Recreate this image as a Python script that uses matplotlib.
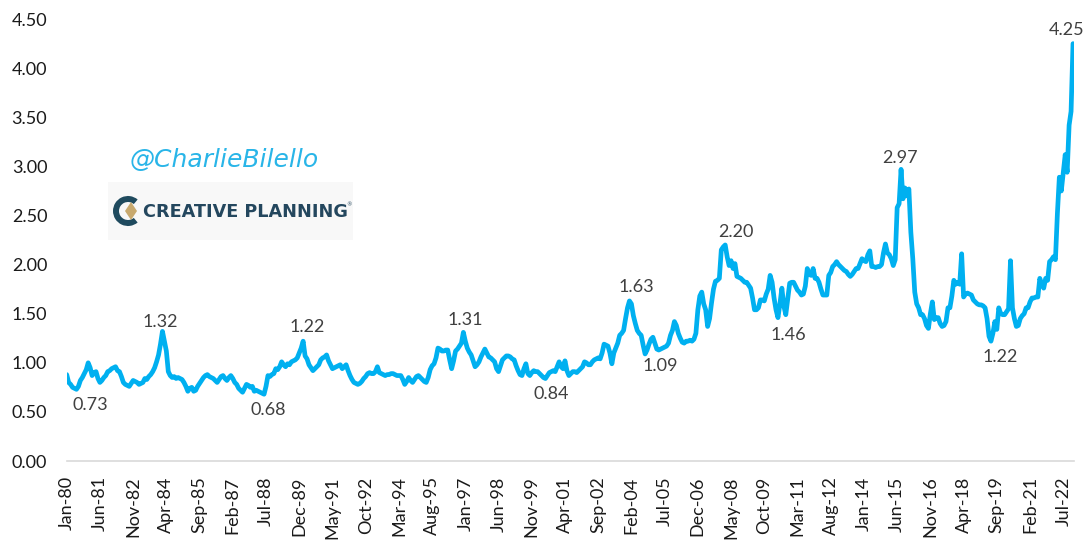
import matplotlib
matplotlib.use("Agg")
import matplotlib.pyplot as plt
from matplotlib.patches import Rectangle, Wedge, Polygon
import numpy as np

# Average price of a dozen Grade A large eggs (USD), monthly Jan-1980 .. Dec-2022
egg_price = [
    0.88, 0.80, 0.78, 0.75, 0.74, 0.73, 0.76, 0.82, 0.85, 0.89, 0.93, 1.00,  # 1980
    0.95, 0.87, 0.90, 0.91, 0.84, 0.80, 0.82, 0.85, 0.87, 0.91, 0.92, 0.94,  # 1981
    0.95, 0.96, 0.92, 0.91, 0.86, 0.80, 0.78, 0.77, 0.76, 0.79, 0.82, 0.81,  # 1982
    0.80, 0.78, 0.79, 0.80, 0.84, 0.83, 0.86, 0.88, 0.91, 0.95, 1.01, 1.08,  # 1983
    1.19, 1.32, 1.22, 1.12, 0.91, 0.87, 0.85, 0.86, 0.84, 0.85, 0.84, 0.83,  # 1984
    0.80, 0.76, 0.71, 0.74, 0.75, 0.71, 0.72, 0.76, 0.79, 0.82, 0.85, 0.87,  # 1985
    0.88, 0.86, 0.85, 0.84, 0.82, 0.80, 0.83, 0.86, 0.87, 0.84, 0.82, 0.85,  # 1986
    0.87, 0.84, 0.80, 0.78, 0.74, 0.72, 0.70, 0.74, 0.78, 0.77, 0.75, 0.76,  # 1987
    0.71, 0.72, 0.71, 0.70, 0.69, 0.68, 0.76, 0.87, 0.86, 0.88, 0.89, 0.94,  # 1988
    0.93, 0.96, 1.01, 0.98, 0.96, 0.99, 0.98, 1.01, 1.02, 1.03, 1.05, 1.10,  # 1989
    1.15, 1.22, 1.07, 1.04, 0.98, 0.95, 0.92, 0.94, 0.96, 0.98, 1.03, 1.05,  # 1990
    1.06, 1.08, 1.02, 0.98, 0.94, 0.95, 0.96, 0.97, 0.98, 0.94, 0.96, 0.98,  # 1991
    0.92, 0.87, 0.83, 0.80, 0.79, 0.78, 0.79, 0.81, 0.84, 0.86, 0.89, 0.90,  # 1992
    0.89, 0.89, 0.91, 0.96, 0.90, 0.89, 0.88, 0.87, 0.88, 0.88, 0.89, 0.89,  # 1993
    0.88, 0.87, 0.87, 0.87, 0.83, 0.78, 0.81, 0.85, 0.82, 0.80, 0.83, 0.86,  # 1994
    0.87, 0.85, 0.83, 0.81, 0.80, 0.85, 0.93, 0.97, 0.99, 1.05, 1.15, 1.14,  # 1995
    1.12, 1.12, 1.13, 1.13, 1.03, 0.94, 1.02, 1.12, 1.14, 1.17, 1.20, 1.31,  # 1996
    1.22, 1.15, 1.11, 1.08, 1.02, 0.96, 0.98, 1.01, 1.06, 1.10, 1.14, 1.10,  # 1997
    1.06, 1.05, 1.03, 1.01, 0.94, 0.91, 0.97, 1.03, 1.05, 1.07, 1.07, 1.06,  # 1998
    1.04, 1.03, 0.97, 0.92, 0.88, 0.87, 0.94, 0.99, 0.89, 0.87, 0.90, 0.92,  # 1999
    0.91, 0.91, 0.89, 0.87, 0.85, 0.84, 0.87, 0.90, 0.91, 0.92, 0.91, 0.96,  # 2000
    1.01, 0.96, 0.94, 1.02, 0.92, 0.87, 0.89, 0.91, 0.91, 0.90, 0.92, 0.94,  # 2001
    0.96, 1.01, 1.00, 0.98, 0.98, 1.01, 1.03, 1.04, 1.05, 1.04, 1.10, 1.19,  # 2002
    1.18, 1.17, 1.10, 0.99, 1.10, 1.15, 1.20, 1.28, 1.30, 1.33, 1.45, 1.56,  # 2003
    1.63, 1.60, 1.48, 1.40, 1.33, 1.30, 1.28, 1.18, 1.09, 1.13, 1.19, 1.24,  # 2004
    1.26, 1.20, 1.14, 1.13, 1.14, 1.15, 1.16, 1.17, 1.20, 1.28, 1.33, 1.42,  # 2005
    1.38, 1.30, 1.25, 1.21, 1.20, 1.22, 1.22, 1.23, 1.22, 1.24, 1.30, 1.54,  # 2006
    1.68, 1.72, 1.60, 1.54, 1.37, 1.45, 1.61, 1.75, 1.83, 1.84, 1.86, 2.15,  # 2007
    2.18, 2.20, 2.08, 1.99, 2.04, 1.96, 2.01, 1.88, 1.87, 1.86, 1.84, 1.82,  # 2008
    1.82, 1.79, 1.76, 1.66, 1.54, 1.54, 1.56, 1.64, 1.64, 1.63, 1.70, 1.75,  # 2009
    1.89, 1.82, 1.66, 1.54, 1.46, 1.60, 1.76, 1.58, 1.49, 1.65, 1.81, 1.82,  # 2010
    1.82, 1.78, 1.74, 1.72, 1.69, 1.70, 1.78, 1.96, 1.90, 1.89, 1.96, 1.86,  # 2011
    1.86, 1.82, 1.75, 1.69, 1.69, 1.69, 1.89, 1.92, 1.98, 2.00, 2.03, 2.00,  # 2012
    1.98, 1.96, 1.94, 1.93, 1.90, 1.88, 1.90, 1.93, 1.96, 1.96, 2.01, 2.06,  # 2013
    2.04, 2.03, 2.10, 2.14, 1.98, 1.98, 1.97, 1.98, 1.98, 2.00, 2.12, 2.21,  # 2014
    2.12, 2.10, 2.06, 1.99, 2.05, 2.58, 2.62, 2.97, 2.67, 2.78, 2.70, 2.77,  # 2015
    2.33, 2.06, 1.72, 1.60, 1.56, 1.49, 1.49, 1.45, 1.38, 1.35, 1.50, 1.62,  # 2016
    1.44, 1.46, 1.46, 1.40, 1.37, 1.38, 1.42, 1.56, 1.56, 1.68, 1.84, 1.80,  # 2017
    1.82, 1.80, 2.11, 1.67, 1.70, 1.71, 1.70, 1.69, 1.64, 1.62, 1.60, 1.59,  # 2018
    1.59, 1.58, 1.56, 1.45, 1.27, 1.22, 1.30, 1.42, 1.34, 1.56, 1.50, 1.49,  # 2019
    1.49, 1.52, 1.55, 2.04, 1.56, 1.45, 1.37, 1.38, 1.45, 1.48, 1.50, 1.56,  # 2020
    1.56, 1.62, 1.66, 1.66, 1.67, 1.67, 1.86, 1.80, 1.76, 1.86, 1.84, 2.03,  # 2021
    2.05, 2.08, 2.05, 2.52, 2.89, 2.75, 2.94, 3.12, 2.94, 3.42, 3.56, 4.25,  # 2022
]

# Category axis labels, one every 17 months starting at Jan-80
tick_labels = [
    "Jan-80", "Jun-81", "Nov-82", "Apr-84", "Sep-85", "Feb-87", "Jul-88",
    "Dec-89", "May-91", "Oct-92", "Mar-94", "Aug-95", "Jan-97", "Jun-98",
    "Nov-99", "Apr-01", "Sep-02", "Feb-04", "Jul-05", "Dec-06", "May-08",
    "Oct-09", "Mar-11", "Aug-12", "Jan-14", "Jun-15", "Nov-16", "Apr-18",
    "Sep-19", "Feb-21", "Jul-22",
]
tick_step = 17

# Highlighted highs and lows (month index into egg_price)
highlight_idx = [5, 49, 101, 121, 203, 245, 288, 296, 337, 364, 427, 473, 515]
# Label offsets from their points, in pixels (x right, y up)
highlight_offset = [(14, -16), (-2, 9), (4, -16), (4, 14), (2, 12), (6, -15),
                    (7, 14), (15, -12), (11, 13), (10, -17), (-1, 11), (9, -16),
                    (-6, 14)]

W, H, DPI = 1091, 540, 100
LINE_COLOR = "#00B0F0"
TEXT_COLOR = "#404040"
FONT = ["Lato", "DejaVu Sans"]

plt.rcParams["font.family"] = FONT

fig = plt.figure(figsize=(W / DPI, H / DPI), dpi=DPI, facecolor="white")
left_px, right_px, bottom_px, top_px = 66.7, 1074.0, 461.0, 19.1
ax = fig.add_axes([left_px / W, 1 - bottom_px / H,
                   (right_px - left_px) / W, (bottom_px - top_px) / H])

x = np.arange(len(egg_price))
ax.plot(x, egg_price, color=LINE_COLOR, lw=3.4, solid_joinstyle="round",
        solid_capstyle="round", zorder=3)

ax.set_xlim(0, 515.5)
ax.set_ylim(0, 4.5)
ax.set_yticks(np.arange(0, 4.51, 0.5))
ax.set_yticklabels([f"{v:.2f}" for v in np.arange(0, 4.51, 0.5)])
ax.set_xticks(np.arange(len(tick_labels)) * tick_step)
ax.set_xticklabels(tick_labels, rotation=90)

for side in ("top", "right", "left"):
    ax.spines[side].set_visible(False)
ax.spines["bottom"].set_color("#D9D9D9")
ax.spines["bottom"].set_linewidth(1.2)
ax.tick_params(axis="both", length=0, labelsize=13, labelcolor="#1a1a1a")
ax.tick_params(axis="y", pad=14)
ax.tick_params(axis="x", pad=11)
ax.set_facecolor("white")

for idx, (dx, dy) in zip(highlight_idx, highlight_offset):
    val = egg_price[idx]
    ax.annotate(f"{val:.2f}", xy=(idx, val), xytext=(dx, dy),
                textcoords="offset pixels", ha="center", va="center",
                fontsize=13, color=TEXT_COLOR, zorder=4)

# Branding overlay drawn in pixel coordinates
ov = fig.add_axes([0, 0, 1, 1])
ov.set_xlim(0, W)
ov.set_ylim(H, 0)
ov.axis("off")

ov.text(224, 160, "@CharlieBilello", ha="center", va="center", fontsize=18,
        color="#29B5E8", style="italic", family=["DejaVu Sans"])

ov.add_patch(Rectangle((108, 182), 245, 58, facecolor="#F8F8F8",
                       edgecolor="none"))
ov.add_patch(Wedge((128, 211), 15, 50, 310, width=6, facecolor="#1F4A5E",
                   edgecolor="none"))
ov.add_patch(Polygon([(131, 202), (137, 211), (131, 220), (125, 211)],
                     closed=True, facecolor="#C8A96E", edgecolor="none"))
ov.text(143, 212, "CREATIVE PLANNING", ha="left", va="center", fontsize=12.7,
        fontweight="bold", color="#24475E", family=["DejaVu Sans"])
ov.text(346, 205, "®", ha="left", va="center", fontsize=4, color="#24475E",
        family=["DejaVu Sans"])

fig.savefig("out.png", dpi=DPI, facecolor="white")
